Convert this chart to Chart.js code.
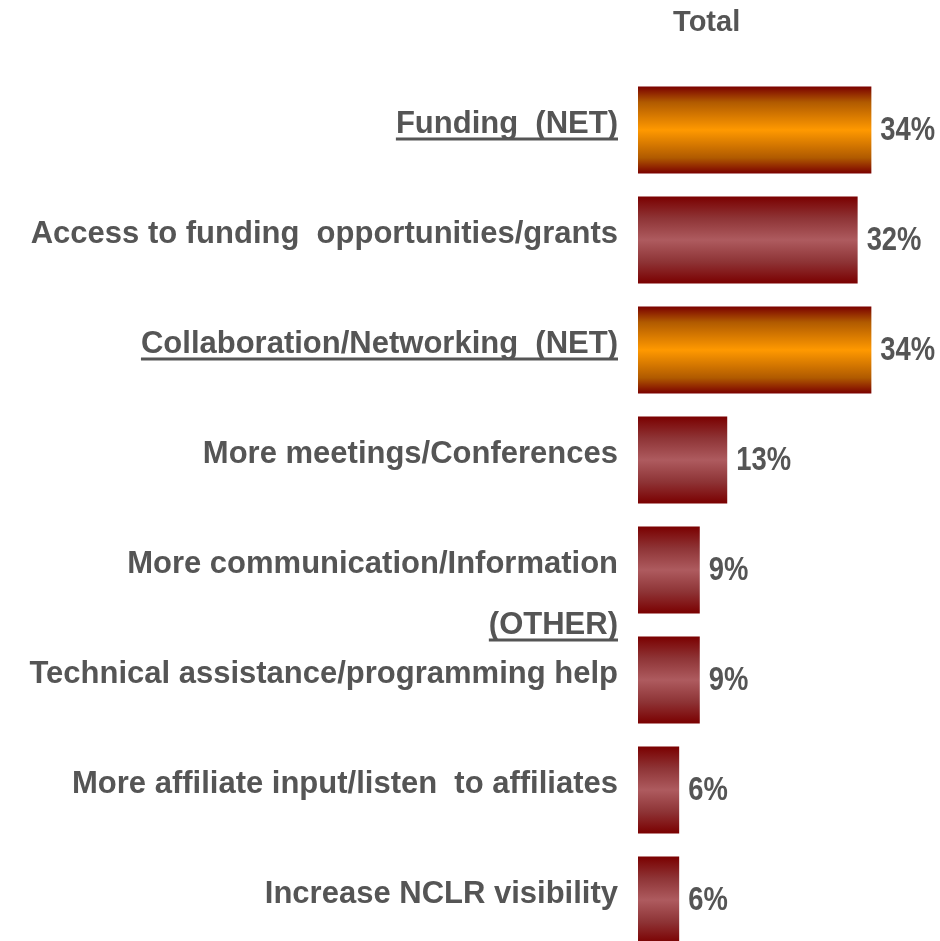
<!DOCTYPE html>
<html>
<head>
<meta charset="utf-8">
<script src="https://cdn.jsdelivr.net/npm/chart.js@4"></script>
<style>
  html, body { margin: 0; padding: 0; background: #fff; overflow: hidden; }
  #wrap { width: 940px; height: 960px; }
</style>
</head>
<body>
<div id="wrap"><canvas id="barChart"></canvas></div>
<script>
const categories = [
    "Funding  (NET)",
    "Access to funding  opportunities/grants",
    "Collaboration/Networking  (NET)",
    "More meetings/Conferences",
    "More communication/Information",
    "Technical assistance/programming help",
    "More affiliate input/listen  to affiliates",
    "Increase NCLR visibility"
];
const totals = [34, 32, 34, 13, 9, 9, 6, 6];
const netRows = [true, false, true, false, false, false, false, false];
const otherHeading = "(OTHER)";
const otherStartsAt = 5;
const seriesName = "Total";

const TEXT = "#555555";
const FONT = "'Liberation Sans', Arial, sans-serif";
const BAR_H = 87;

document.addEventListener("DOMContentLoaded", function () {
    // shaded bar fill: dark red edges, lighter band through the middle
    function barFill(ctx) {
        const chart = ctx.chart;
        const net = netRows[ctx.dataIndex];
        if (!chart.chartArea || !chart.scales.y) return net ? "#ff9900" : "#ad5a5e";
        const yc = chart.scales.y.getPixelForValue(ctx.dataIndex);
        const g = chart.ctx.createLinearGradient(0, yc - BAR_H / 2, 0, yc + BAR_H / 2);
        if (net) {
            g.addColorStop(0, "#7a0000");
            g.addColorStop(0.18, "#b05a00");
            g.addColorStop(0.5, "#ff9900");
            g.addColorStop(0.82, "#b05a00");
            g.addColorStop(1, "#7a0000");
        } else {
            g.addColorStop(0, "#7a0000");
            g.addColorStop(0.25, "#8e3436");
            g.addColorStop(0.5, "#ae5b5f");
            g.addColorStop(0.75, "#8e3436");
            g.addColorStop(1, "#7a0000");
        }
        return g;
    }

    // category names, right aligned beside the bars, NET rows underlined
    const rowLabels = {
        id: "rowLabels",
        afterDraw(chart) {
            const c = chart.ctx;
            const y = chart.scales.y;
            const right = chart.chartArea.left - 20;
            c.save();
            c.fillStyle = TEXT;
            c.strokeStyle = TEXT;
            c.font = "bold 31px " + FONT;
            c.textAlign = "right";
            c.textBaseline = "alphabetic";
            const writeLine = (text, yc, underline) => {
                const base = yc + 11;
                c.fillText(text, right, base);
                if (underline) {
                    const w = c.measureText(text).width;
                    c.lineWidth = 3;
                    c.beginPath();
                    c.moveTo(right - w, base + 6);
                    c.lineTo(right, base + 6);
                    c.stroke();
                }
            };
            categories.forEach((name, i) => {
                writeLine(name, y.getPixelForValue(i) - 8, netRows[i]);
            });
            const mid = (y.getPixelForValue(otherStartsAt - 1) + y.getPixelForValue(otherStartsAt)) / 2;
            writeLine(otherHeading, mid - 2, true);

            // series heading over the bars
            c.font = "bold 29px " + FONT;
            c.textAlign = "center";
            c.fillText(seriesName, chart.scales.x.getPixelForValue(10), 31);
            c.restore();
        }
    };

    // percentage at the end of each bar, slightly condensed
    const valueLabels = {
        id: "valueLabels",
        afterDatasetsDraw(chart) {
            const c = chart.ctx;
            const meta = chart.getDatasetMeta(0);
            c.save();
            c.fillStyle = TEXT;
            c.font = "bold 33px " + FONT;
            c.textAlign = "left";
            c.textBaseline = "middle";
            meta.data.forEach((bar, i) => {
                c.save();
                c.translate(bar.x + 9, bar.y + 1);
                c.scale(0.83, 1);
                c.fillText(totals[i] + "%", 0, 0);
                c.restore();
            });
            c.restore();
        }
    };

    const ctx = document.getElementById("barChart").getContext("2d");
    new Chart(ctx, {
        type: "bar",
        data: {
            labels: categories,
            datasets: [{
                label: seriesName,
                data: totals,
                backgroundColor: barFill,
                borderWidth: 0,
                categoryPercentage: 1,
                barPercentage: BAR_H / 110
            }]
        },
        options: {
            indexAxis: "y",
            responsive: true,
            maintainAspectRatio: false,
            animation: false,
            layout: { padding: { left: 638, top: 75, right: 0, bottom: 5 } },
            scales: {
                x: { display: false, min: 0, max: 44 },
                y: { display: false }
            },
            plugins: {
                legend: { display: false },
                tooltip: { enabled: false }
            }
        },
        plugins: [rowLabels, valueLabels]
    });
});
</script>
</body>
</html>
